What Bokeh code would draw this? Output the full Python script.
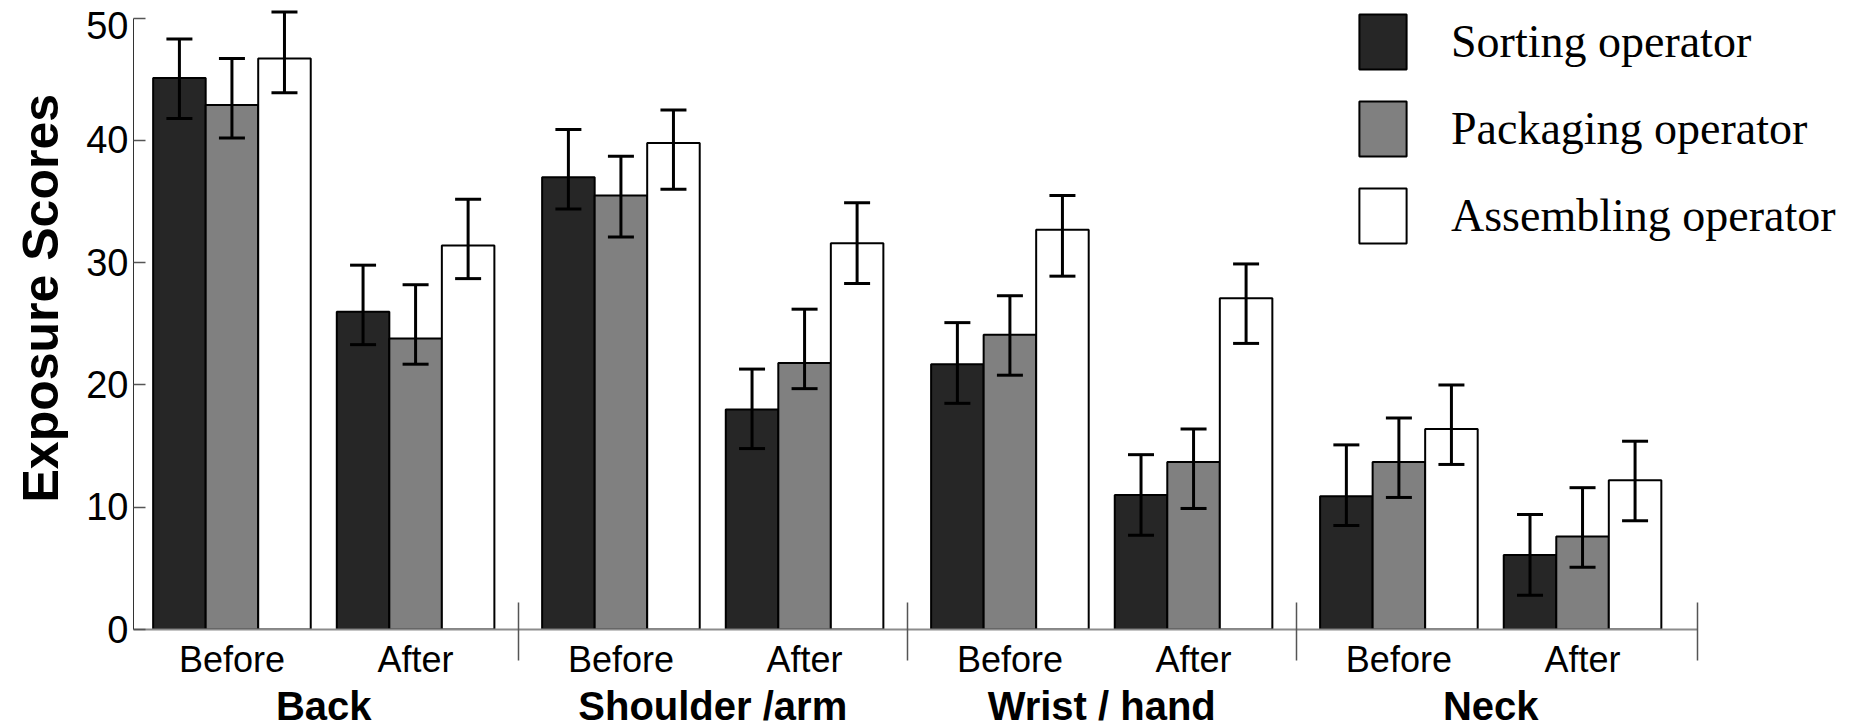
from bokeh.plotting import figure
from bokeh.models import (ColumnDataSource, Range1d, FixedTicker, LinearAxis,
                          Legend, LegendItem, Title)
from bokeh.transform import dodge
from bokeh.embed import file_html
from bokeh.resources import INLINE

# ---------------- data ----------------
body_parts = ["Back", "Shoulder /arm", "Wrist / hand", "Neck"]
periods = ["Before", "After"]
operators = ["Sorting operator", "Packaging operator", "Assembling operator"]

# order: Back-Before, Back-After, Shoulder-Before, Shoulder-After,
#        Wrist-Before, Wrist-After, Neck-Before, Neck-After
sorting = [45.1, 26.0, 37.0, 18.0, 21.7, 11.0, 10.9, 6.1]
sorting_upper = [48.3, 29.8, 40.9, 21.3, 25.1, 14.3, 15.1, 9.4]
sorting_lower = [41.8, 23.3, 34.4, 14.8, 18.5, 7.7, 8.5, 2.8]

packaging = [42.9, 23.8, 35.5, 21.8, 24.1, 13.7, 13.7, 7.6]
packaging_upper = [46.7, 28.2, 38.7, 26.2, 27.3, 16.4, 17.3, 11.6]
packaging_lower = [40.2, 21.7, 32.1, 19.7, 20.8, 9.9, 10.8, 5.1]

assembling = [46.7, 31.4, 39.8, 31.6, 32.7, 27.1, 16.4, 12.2]
assembling_upper = [50.5, 35.2, 42.5, 34.9, 35.5, 29.9, 20.0, 15.4]
assembling_lower = [43.9, 28.7, 36.0, 28.3, 28.9, 23.4, 13.5, 8.9]

y_ticks = [0, 10, 20, 30, 40, 50]
y_tick_labels = {50: "\n50"}   # top label sits a little below its tick, as in the source

# ---------------- layout (in bar widths) ----------------
n_ops = len(operators)
sub_gap = 0.496     # gap between the Before and After blocks
group_gap = 0.909   # gap between body parts
left_pad = 0.374    # axis padding before the first bar
right_pad = 0.695   # axis padding after the last bar
bar_px = 52.53      # pixels per bar width
frame_w = 1716

period_step = n_ops + sub_gap
group_step = len(periods) * n_ops + sub_gap + group_gap

block_centers = []
period_labels = {}
for i, b in enumerate(body_parts):
    for j, per in enumerate(periods):
        c = round(i * group_step + j * period_step + n_ops / 2, 4)
        block_centers.append(c)
        period_labels[c] = per

body_centers = {}
for i, b in enumerate(body_parts):
    c = round(i * group_step + (len(periods) * n_ops + sub_gap) / 2, 4)
    body_centers[c] = b

last_right = (len(body_parts) - 1) * group_step + (len(periods) - 1) * period_step + n_ops
axis_end = round(last_right + right_pad, 4)
separators = [round(i * group_step + len(periods) * n_ops + sub_gap + group_gap / 2, 4)
              for i in range(len(body_parts) - 1)] + [axis_end]

x_start = -left_pad
x_end = x_start + frame_w / bar_px

src = ColumnDataSource(dict(
    x=block_centers,
    sorting=sorting, sorting_upper=sorting_upper, sorting_lower=sorting_lower,
    packaging=packaging, packaging_upper=packaging_upper, packaging_lower=packaging_lower,
    assembling=assembling, assembling_upper=assembling_upper, assembling_lower=assembling_lower,
))

p = figure(x_range=Range1d(x_start, x_end), y_range=Range1d(0, 51.448),
           frame_width=frame_w, frame_height=629,
           min_border_left=120, min_border_right=0,
           min_border_top=0, min_border_bottom=0,
           output_backend="svg", toolbar_location=None)

keys = ["sorting", "packaging", "assembling"]
fills = ["#262626", "#808080", "#ffffff"]
offsets = [-1.0, 0.0, 1.0]

items = []
for key, fill, off, name in zip(keys, fills, offsets, operators):
    xs = dodge("x", off, range=p.x_range)
    r = p.vbar(x=xs, top=key, bottom=0, width=1.0, source=src,
               fill_color=fill, line_color="black", line_width=2)
    p.segment(x0=xs, y0=key + "_lower", x1=xs, y1=key + "_upper", source=src,
              line_color="black", line_width=3)
    p.scatter(x=xs, y=key + "_upper", marker="dash", size=26, source=src,
              line_color="black", line_width=3)
    p.scatter(x=xs, y=key + "_lower", marker="dash", size=26, source=src,
              line_color="black", line_width=3)
    items.append(LegendItem(label=name, renderers=[r]))

legend = Legend(items=items, location=(1220, 379),
                glyph_width=59, glyph_height=69, label_height=69,
                label_standoff=39, spacing=18, padding=0, margin=0,
                border_line_color=None, background_fill_alpha=0,
                label_text_font="Liberation Serif", label_text_font_size="46px",
                label_text_color="black")
p.add_layout(legend)

# ---------------- y axis ----------------
yax = p.yaxis[0]
yax.ticker = FixedTicker(ticks=y_ticks)
yax.major_label_overrides = y_tick_labels
yax.major_label_text_line_height = 0.1
yax.bounds = (0, 50)
yax.major_label_text_font = "Liberation Sans"
yax.major_label_text_font_size = "38px"
yax.major_label_text_color = "black"
yax.major_label_standoff = 5
yax.major_tick_in = 12
yax.major_tick_out = 0
yax.minor_tick_line_color = None
yax.axis_line_color = "#333333"
yax.major_tick_line_color = "#555555"
yax.major_tick_line_width = 1.5

ytitle = Title(text="Exposure Scores", align="left", offset=127, standoff=25,
               vertical_align="top",
               text_font="Liberation Sans", text_font_size="50px",
               text_font_style="bold", text_color="black")
p.add_layout(ytitle, "left")

# ---------------- x axis: periods + separators ----------------
xax = p.xaxis[0]
xax.ticker = FixedTicker(ticks=block_centers, minor_ticks=separators)
xax.major_label_overrides = period_labels
xax.bounds = (x_start, axis_end + 0.001)
xax.axis_line_color = "#8c8c8c"
xax.axis_line_width = 2
xax.major_tick_line_color = None
xax.major_tick_in = 0
xax.major_tick_out = 0
xax.minor_tick_line_color = "#555555"
xax.minor_tick_line_width = 1.5
xax.minor_tick_in = 27
xax.minor_tick_out = 31
xax.major_label_text_font = "Liberation Sans"
xax.major_label_text_font_size = "36px"
xax.major_label_text_color = "black"
xax.major_label_standoff = -22

# ---------------- x axis: body parts ----------------
bax = LinearAxis(ticker=FixedTicker(ticks=list(body_centers.keys()), minor_ticks=[]),
                 major_label_overrides=body_centers,
                 axis_line_color=None, major_tick_line_color=None,
                 minor_tick_line_color=None,
                 major_tick_in=0, major_tick_out=0,
                 minor_tick_in=0, minor_tick_out=0,
                 major_label_standoff=1,
                 major_label_text_font="Liberation Sans",
                 major_label_text_font_size="40px",
                 major_label_text_font_style="bold",
                 major_label_text_color="black")
p.add_layout(bax, "below")

p.xgrid.grid_line_color = None
p.ygrid.grid_line_color = None
p.outline_line_color = None

open("out.html", "w").write(file_html(p, INLINE))
